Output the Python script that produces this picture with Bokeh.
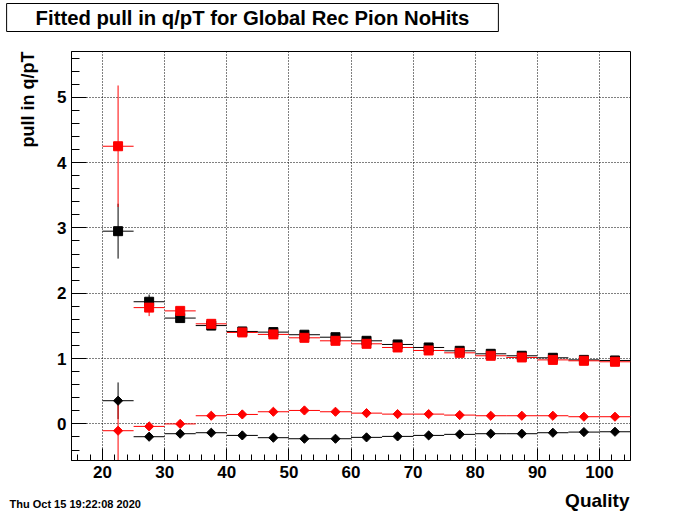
import numpy as np
from bokeh.plotting import figure
from bokeh.models import Label, FixedTicker, Range1d, Title
from bokeh.embed import file_html
from bokeh.resources import INLINE

# ---- data ----
quality = [22.5, 27.5, 32.5, 37.5, 42.5, 47.5, 52.5, 57.5, 62.5, 67.5,
           72.5, 77.5, 82.5, 87.5, 92.5, 97.5, 102.5]
bin_half_width = [2.5] * 17

sq_black = [2.95, 1.87, 1.62, 1.505, 1.415, 1.405, 1.365, 1.327, 1.272, 1.216,
            1.17, 1.119, 1.073, 1.043, 1.012, 0.98, 0.971]
sq_black_err = [0.42, 0.11, 0.03, 0.03, 0.03, 0.03, 0.02, 0.02, 0.02, 0.02,
                0.02, 0.02, 0.02, 0.02, 0.02, 0.02, 0.02]
sq_red = [4.25, 1.78, 1.73, 1.532, 1.40, 1.37, 1.318, 1.272, 1.226, 1.17,
          1.124, 1.088, 1.043, 1.017, 0.98, 0.966, 0.951]
sq_red_err = [0.93, 0.13, 0.04, 0.03, 0.03, 0.03, 0.02, 0.02, 0.02, 0.02,
              0.02, 0.02, 0.02, 0.02, 0.02, 0.02, 0.02]

dm_black = [0.355, -0.196, -0.15, -0.135, -0.176, -0.211, -0.227, -0.227, -0.206, -0.191,
            -0.176, -0.16, -0.15, -0.15, -0.135, -0.125, -0.12]
dm_black_err = [0.28, 0.03, 0.02, 0.02, 0.02, 0.02, 0.01, 0.01, 0.01, 0.01,
                0.01, 0.01, 0.01, 0.01, 0.01, 0.01, 0.01]
dm_red = [-0.104, -0.038, 0.0, 0.125, 0.145, 0.186, 0.206, 0.186, 0.165, 0.15,
          0.15, 0.135, 0.125, 0.125, 0.125, 0.11, 0.11]
dm_red_err = [0.46, 0.03, 0.02, 0.02, 0.02, 0.02, 0.01, 0.01, 0.01, 0.01,
              0.01, 0.01, 0.01, 0.01, 0.01, 0.01, 0.01]

x_major = [20, 30, 40, 50, 60, 70, 80, 90, 100]
x_minor = [v for v in range(16, 105, 2) if v % 10 != 0]
y_major = [0, 1, 2, 3, 4, 5]
y_minor = [round(-0.4 + 0.2 * i, 1) for i in range(31) if (i + 3) % 5 != 0]

title_text = "Fitted pull in q/pT for Global Rec Pion NoHits"
y_title = "pull in q/pT"
x_title = "Quality"
date_text = "Thu Oct 15 19:22:08 2020"

FONT = "Liberation Sans"

p = figure(width=700, height=512, output_backend="svg", toolbar_location=None,
           x_range=Range1d(15, 105), y_range=Range1d(-0.56, 5.70),
           min_border_left=70, min_border_right=70, min_border_top=51, min_border_bottom=52)
p.title.visible = False
p.background_fill_color = "white"
p.border_fill_color = "white"
p.outline_line_color = "black"
p.outline_line_width = 1

for ax in (p.xaxis[0], p.yaxis[0]):
    ax.axis_line_color = "black"
    ax.major_tick_line_color = "black"
    ax.minor_tick_line_color = "black"
    ax.major_tick_out = 0
    ax.minor_tick_out = 0
    ax.major_label_text_font = FONT
    ax.major_label_text_font_style = "bold"
    ax.major_label_text_font_size = "17px"
    ax.major_label_text_color = "black"
    ax.major_label_standoff = 5

p.xaxis[0].ticker = FixedTicker(ticks=x_major, minor_ticks=x_minor)
p.yaxis[0].ticker = FixedTicker(ticks=y_major, minor_ticks=y_minor)
p.xaxis[0].major_tick_in = 12
p.xaxis[0].minor_tick_in = 6
p.yaxis[0].major_tick_in = 15
p.yaxis[0].minor_tick_in = 8

for g in (p.xgrid[0], p.ygrid[0]):
    g.grid_line_color = "black"
    g.grid_line_dash = "1 2"
    g.grid_line_width = 1

q = np.array(quality)
hw = np.array(bin_half_width)

def errors(y, err, color):
    y = np.array(y); err = np.array(err)
    p.segment(x0=q - hw, x1=q + hw, y0=y, y1=y, line_color=color, line_width=1)
    p.segment(x0=q, x1=q, y0=y - err, y1=y + err, line_color=color, line_width=1)

errors(sq_black, sq_black_err, "black")
errors(sq_red, sq_red_err, "red")
errors(dm_black, dm_black_err, "black")
errors(dm_red, dm_red_err, "red")

p.scatter(q, sq_black, marker="square", size=9, fill_color="black", line_color="black")
p.scatter(q, sq_red, marker="square", size=9, fill_color="red", line_color="red")
p.scatter(q, dm_black, marker="square", size=6.5, angle=np.pi / 4, fill_color="black", line_color="black")
p.scatter(q, dm_red, marker="square", size=6.5, angle=np.pi / 4, fill_color="red", line_color="red")

# y-axis title as a side-panel title, aligned to the top of the frame
p.add_layout(Title(text=y_title, align="right", vertical_align="middle", offset=0,
                   standoff=32, text_font=FONT, text_font_style="bold",
                   text_font_size="18px", text_color="black"), "left")

# x-axis title: label in the (empty) right panel, right-aligned at the frame's right edge
p.add_layout(Label(x=-1, y=-40, x_units="screen", y_units="screen", text=x_title,
                   text_align="right", text_baseline="alphabetic",
                   text_font=FONT, text_font_style="bold", text_font_size="19px",
                   text_color="black"), "right")

# title box and date: labels in the "above" side panel (not clipped to the frame)
p.add_layout(Label(x=181, y=34, x_units="screen", y_units="screen", text=title_text,
                   text_align="center", text_baseline="middle",
                   text_font=FONT, text_font_style="bold", text_font_size="20.3px",
                   text_color="black", border_line_color="black", border_line_width=1,
                   background_fill_color="white",
                   padding=dict(left=29, right=29, top=3, bottom=3)), "above")
p.add_layout(Label(x=-62, y=-480, x_units="screen", y_units="screen", text=date_text,
                   text_align="left", text_baseline="alphabetic",
                   text_font=FONT, text_font_style="bold", text_font_size="11px",
                   text_color="black"), "above")

open("out.html", "w").write(file_html(p, INLINE))
